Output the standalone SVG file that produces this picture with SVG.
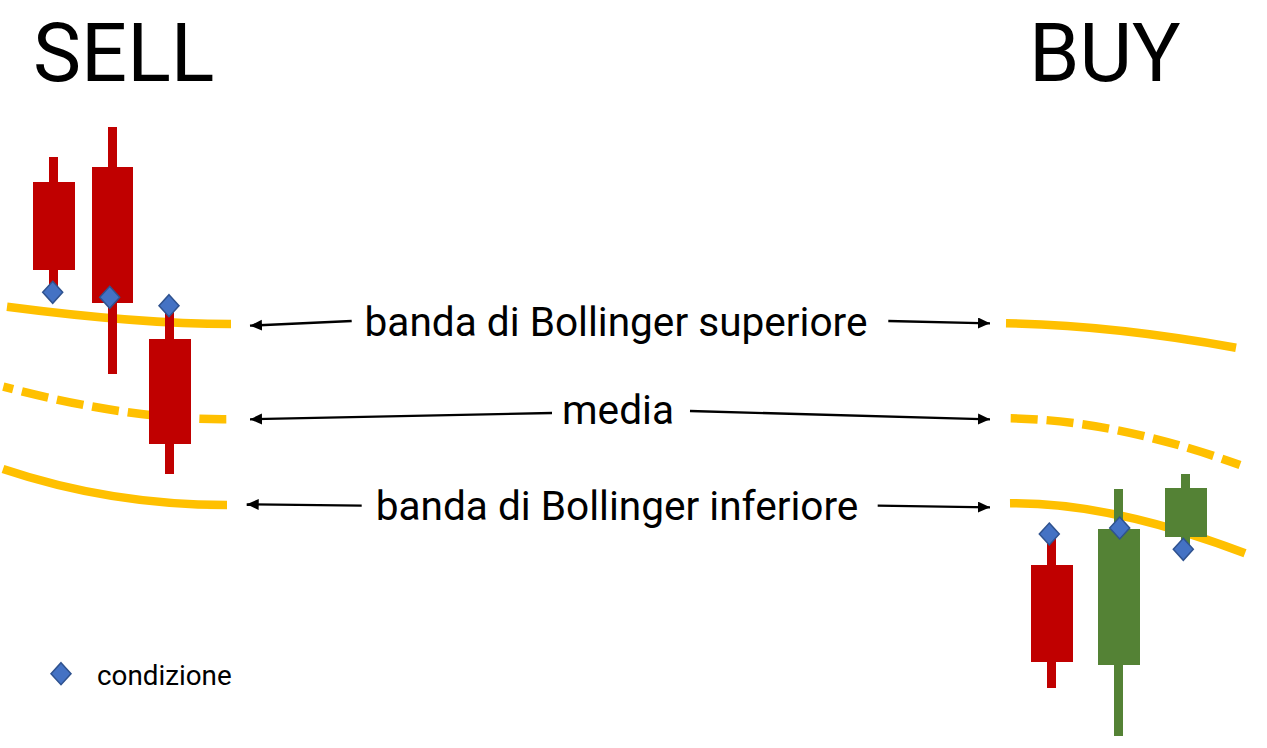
<svg xmlns="http://www.w3.org/2000/svg" width="1267" height="748" viewBox="0 0 1267 748">
<defs>
<style>
.t{font-family:Roboto,"Liberation Sans",sans-serif;fill:#000}
.title{font-size:81px}
.lbl{font-size:40.6px}
.leg{font-size:27.8px}
.red{fill:#C00000}
.grn{fill:#548235}
.band{fill:none;stroke:#FFC000;stroke-width:8.5}
.dash{stroke-dasharray:27 9}
.cond{fill:#4472C4;stroke:#2F528F;stroke-width:1.5}
.arr{fill:none;stroke:#000;stroke-width:2.3;marker-end:url(#ah)}
</style>
<marker id="ah" markerUnits="userSpaceOnUse" markerWidth="14" markerHeight="12" refX="12" refY="5.5" orient="auto">
<path d="M0,0 L12,5.5 L0,11 Z" fill="#000"/>
</marker>
<path id="dm" d="M0,-11 L10,0 L0,11 L-10,0 Z"/>
</defs>
<rect width="1267" height="748" fill="#fff"/>

<g id="titles">
<text class="t title" x="33" y="81">SELL</text>
<text class="t title" x="1029" y="81">BUY</text>
</g>

<g id="bands">
<path class="band" d="M7,306.7 Q140,324 231,324"/>
<path class="band dash" style="stroke-dashoffset:17" d="M3.3,386.7 Q130,420 226.7,419.3"/>
<path class="band" d="M3,469 Q110,505 227,505"/>
<path class="band" d="M1006,323.3 Q1110,325 1236,347.7"/>
<path class="band dash" d="M1010.7,418.3 Q1115,420 1240,465"/>
<path class="band" d="M1010,503.3 Q1110,502 1245,553.3"/>
</g>

<g id="sell-candles">
<g id="sell-c1"><rect class="red" x="49" y="157" width="9" height="130"/><rect class="red" x="33" y="182" width="42" height="88"/></g>
<g id="sell-c2"><rect class="red" x="108" y="127" width="9" height="247"/><rect class="red" x="92" y="167" width="41" height="136"/></g>
<g id="sell-c3"><rect class="red" x="165" y="305" width="9" height="169"/><rect class="red" x="149" y="339" width="42" height="105"/></g>
</g>

<g id="buy-candles">
<g id="buy-c1"><rect class="red" x="1047" y="533" width="9" height="155"/><rect class="red" x="1031" y="565" width="42" height="97"/></g>
<g id="buy-c2"><rect class="grn" x="1114" y="489" width="9" height="247"/><rect class="grn" x="1098" y="529" width="42" height="136"/></g>
<g id="buy-c3"><rect class="grn" x="1181" y="474" width="9" height="74"/><rect class="grn" x="1165" y="488" width="42" height="49"/></g>
</g>

<g id="conditions">
<use href="#dm" class="cond" x="52.7" y="292.3"/>
<use href="#dm" class="cond" x="109.7" y="297.3"/>
<use href="#dm" class="cond" x="169" y="305.7"/>
<use href="#dm" class="cond" x="1049.3" y="534"/>
<use href="#dm" class="cond" x="1119.7" y="528"/>
<use href="#dm" class="cond" x="1183.3" y="549.3"/>
</g>

<g id="labels">
<text class="t lbl" x="616" y="336" text-anchor="middle">banda di Bollinger superiore</text>
<text class="t lbl" x="618" y="424" text-anchor="middle">media</text>
<text class="t lbl" x="617" y="520" text-anchor="middle">banda di Bollinger inferiore</text>
</g>

<g id="connectors">
<path class="arr" d="M351.7,321 L250,325.7"/>
<path class="arr" d="M888.3,321 L990,323.3"/>
<path class="arr" d="M552,413 L250,419.3"/>
<path class="arr" d="M690,411 L990,419.3"/>
<path class="arr" d="M361.7,505.7 L246.7,504.3"/>
<path class="arr" d="M877.7,505.7 L990,507.3"/>
</g>

<g id="legend">
<use href="#dm" class="cond" x="61" y="673.7"/>
<text class="t leg" x="97" y="684.5">condizione</text>
</g>
</svg>
